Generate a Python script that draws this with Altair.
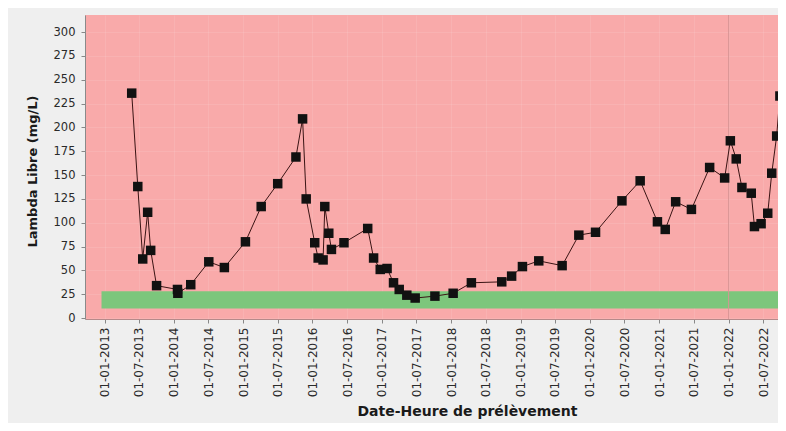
import altair as alt
import pandas as pd

# ---- data ----
dates = [
    "2013-05-24", "2013-06-25", "2013-07-21", "2013-08-16", "2013-09-01", "2013-10-02",
    "2014-01-20", "2014-01-22", "2014-03-31", "2014-07-04", "2014-09-24",
    "2015-01-13", "2015-04-06", "2015-07-02", "2015-10-06", "2015-11-10", "2015-11-29",
    "2016-01-13", "2016-01-31", "2016-02-26", "2016-03-06", "2016-03-27", "2016-04-10",
    "2016-06-15", "2016-10-18", "2016-11-18", "2016-12-23",
    "2017-01-28", "2017-03-03", "2017-04-02", "2017-05-12", "2017-06-25", "2017-10-07",
    "2018-01-11", "2018-04-17", "2018-09-24", "2018-11-15",
    "2019-01-11", "2019-04-07", "2019-08-08", "2019-11-04",
    "2020-01-31", "2020-06-18", "2020-09-22", "2020-12-22",
    "2021-02-01", "2021-03-28", "2021-06-19", "2021-09-23", "2021-12-11",
    "2022-01-10", "2022-02-10", "2022-03-12", "2022-04-30", "2022-05-17",
    "2022-06-21", "2022-07-26", "2022-08-16", "2022-09-11", "2022-09-28",
]
values = [
    236, 138, 62, 111, 71, 34,
    30, 26, 35, 59, 53,
    80, 117, 141, 169, 209, 125,
    79, 63, 61, 117, 89, 72, 79, 94, 63, 51,
    52, 37, 30, 24, 21, 23,
    26, 37, 38, 44,
    54, 60, 55, 87,
    90, 123, 144, 101,
    93, 122, 114, 158, 147,
    186, 167, 137, 131, 96, 99, 110, 152, 191, 233,
]
tick_years = list(range(2013, 2023))
tick_months = [1, 7]
y_ticks = list(range(0, 301, 25))
normal_low = [10]
normal_high = [28]
band_start = ["2012-12-16"]
band_end = ["2030-01-01"]
marker_dates = ["2022-01-01"]
x_title = "Date-Heure de prélèvement"
y_title = "Lambda Libre (mg/L)"

df = pd.DataFrame({"date": dates, "value": values})
band_df = pd.DataFrame({"date": band_start, "end": band_end, "value": normal_low, "high": normal_high})
marker_df = pd.DataFrame({"date": marker_dates})

tick_values = [alt.DateTime(year=y, month=m, date=1, utc=True) for y in tick_years for m in tick_months]

x_scale = alt.Scale(
    type="utc",
    domain=[alt.DateTime(year=2012, month=9, date=20, utc=True),
            alt.DateTime(year=2022, month=9, date=18, utc=True)],
)
y_scale = alt.Scale(domain=[-1, 318], nice=False, zero=False)

x_axis = alt.Axis(
    values=tick_values,
    labelExpr="utcFormat(datum.value, '%d-%m-%Y')",
    labelAngle=270,
    labelFontSize=12,
    labelColor="#2a2a2a",
    labelPadding=4,
    tickSize=4,
    grid=True,
    title=x_title,
    titleX=382,
    titleY=92,
    titleAlign="center",
    titleBaseline="middle",
    titleFontSize=14,
    titleFontWeight="bold",
    titleColor="#1a1a1a",
    domainColor="#b58a8a",
)
y_axis = alt.Axis(
    values=y_ticks,
    labelFontSize=11.5,
    labelColor="#2a2a2a",
    labelPadding=6,
    tickSize=4,
    grid=True,
    title=y_title,
    titleX=-53,
    titleY=156,
    titleAlign="center",
    titleBaseline="middle",
    titleFontSize=13,
    titleFontWeight="bold",
    titleColor="#1a1a1a",
    domainColor="#8a8a8a",
)

X = alt.X("date:T", scale=x_scale, axis=x_axis, title=x_title)
Y = alt.Y("value:Q", scale=y_scale, axis=y_axis, title=y_title)

band = alt.Chart(band_df).mark_rect(color="#7cc67c", clip=True).encode(
    x=X, x2="end:T", y=Y, y2="high:Q",
)

marker = alt.Chart(marker_df).mark_rule(color="#d79595", strokeWidth=1).encode(x=X)

line = alt.Chart(df).mark_line(color="#3a1414", strokeWidth=1, clip=True).encode(x=X, y=Y)

points = alt.Chart(df).mark_square(size=90, color="#111111", opacity=1, clip=True).encode(x=X, y=Y)

chart = alt.layer(band, marker, line, points).properties(
    width=693,
    height=304,
    autosize=alt.AutoSizeParams(type="none"),
    padding={"left": 77, "top": 7, "right": 0, "bottom": 104},
    background="#efefef",
).configure_view(
    fill="#f9aaaa",
    strokeWidth=0,
).configure_axis(
    labelFont="DejaVu Sans",
    titleFont="DejaVu Sans",
    gridColor="#ffffff",
    gridOpacity=0.1,
    tickColor="#888888",
)

chart.save("out.html", embed_options={"renderer": "svg", "actions": False})
